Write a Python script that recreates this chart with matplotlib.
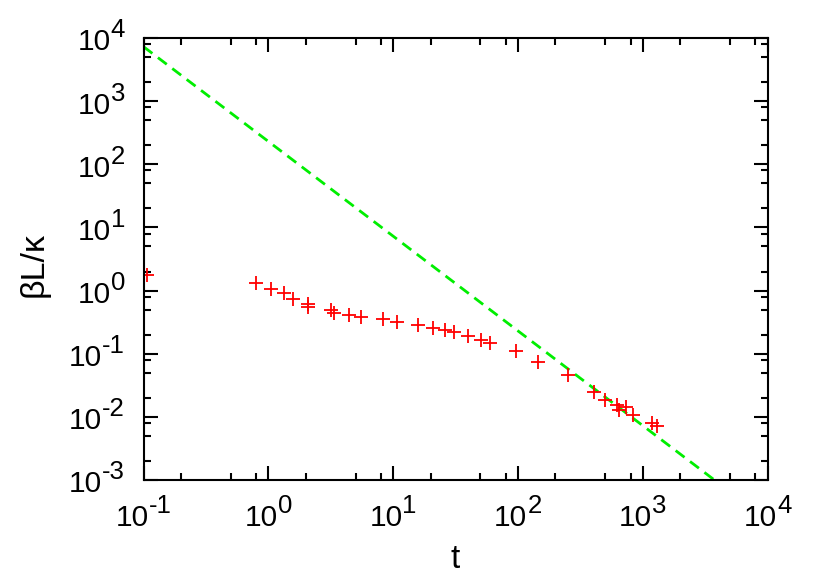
import numpy as np
import matplotlib
matplotlib.use('Agg')
import matplotlib.pyplot as plt
from matplotlib.ticker import LogLocator, NullFormatter
from matplotlib.font_manager import FontProperties

# datos
t_datos = [0.106, 0.79, 1.06, 1.33, 1.585, 2.07, 2.07, 3.16, 3.36, 4.44, 5.5,
           8.34, 10.8, 15.7, 20.7, 26.1, 30.9, 40.1, 50.4, 60.1, 96.6, 146,
           250, 407, 499, 620, 650, 734, 832, 1180, 1295]
bL_datos = [1.78, 1.33, 1.05, 0.925, 0.73, 0.605, 0.543, 0.49, 0.446, 0.41,
            0.377, 0.35, 0.32, 0.285, 0.252, 0.237, 0.218, 0.19, 0.165, 0.146,
            0.112, 0.0746, 0.046, 0.0245, 0.0185, 0.0154, 0.0128, 0.0142,
            0.0107, 0.0079, 0.00716]

# recta de ajuste  A * t^p
A_ajuste = 230.0
p_ajuste = -1.5

# exponentes de las decadas en cada eje
exp_x = [-1, 0, 1, 2, 3, 4]
exp_y = [-3, -2, -1, 0, 1, 2, 3, 4]

FUENTE = 'Liberation Sans'
TAM = 21.5       # tamaño de "10"
TAM_SUP = 18.5   # tamaño del exponente
plt.rcParams['font.family'] = [FUENTE, 'DejaVu Sans']

fig = plt.figure(figsize=(8.22, 5.76), dpi=100)
ax = fig.add_axes([0.1746, 0.1667, 0.7591, 0.7674])

t_linea = np.logspace(-1, 4, 200)
ax.plot(t_linea, A_ajuste * t_linea ** p_ajuste, color='#00ee00', lw=2,
        dashes=(4, 2.5))
ax.plot(t_datos, bL_datos, '+', color='#ff0000', markersize=10, mew=1.3)

ax.set_xscale('log')
ax.set_yscale('log')
ax.set_xlim(1e-1, 1e4)
ax.set_ylim(1e-3, 1e4)

# ticks mayores por decada, menores en 2, 5 y 8
for eje in (ax.xaxis, ax.yaxis):
    eje.set_major_locator(LogLocator(base=10, numticks=20))
    eje.set_minor_locator(LogLocator(base=10, subs=[2, 5, 8], numticks=20))
    eje.set_minor_formatter(NullFormatter())

ax.tick_params(which='both', direction='in', top=True, right=True, width=1.5,
               labelbottom=False, labelleft=False)
ax.tick_params(which='major', length=10)
ax.tick_params(which='minor', length=5)
for s in ax.spines.values():
    s.set_linewidth(1.5)

# etiquetas 10^n a mano, con el exponente grande (estilo gnuplot)
rend = fig.canvas.get_renderer()

def ancho(s, size):
    w, h, d = rend.get_text_width_height_descent(
        s, FontProperties(family=FUENTE, size=size), ismath=False)
    return w * 72.0 / fig.dpi  # en puntos

def px(v):
    return v * 0.72  # pixeles -> puntos

SUBE = px(13)  # altura extra del exponente

for n in exp_x:
    w10 = ancho('10', TAM)
    ws = ancho(str(n), TAM_SUP)
    x0 = -(w10 + ws) / 2.0
    ax.annotate('10', xy=(10.0 ** n, 0), xycoords=ax.get_xaxis_transform(),
                xytext=(x0, -px(46.5)), textcoords='offset points',
                ha='left', va='baseline', fontsize=TAM, annotation_clip=False)
    ax.annotate(str(n), xy=(10.0 ** n, 0), xycoords=ax.get_xaxis_transform(),
                xytext=(x0 + w10, -px(46.5) + SUBE), textcoords='offset points',
                ha='left', va='baseline', fontsize=TAM_SUP, annotation_clip=False)

for n in exp_y:
    ws = ancho(str(n), TAM_SUP)
    xd = -px(18.5)
    ax.annotate(str(n), xy=(0, 10.0 ** n), xycoords=ax.get_yaxis_transform(),
                xytext=(xd, -px(12.5) + SUBE), textcoords='offset points',
                ha='right', va='baseline', fontsize=TAM_SUP, annotation_clip=False)
    ax.annotate('10', xy=(0, 10.0 ** n), xycoords=ax.get_yaxis_transform(),
                xytext=(xd - ws, -px(12.5)), textcoords='offset points',
                ha='right', va='baseline', fontsize=TAM, annotation_clip=False)

ax.set_xlabel('t', fontsize=24)
ax.xaxis.label.set_va('baseline')
ax.xaxis.set_label_coords(0.5, -0.198)
ax.set_ylabel('βL/κ', fontsize=24.5)
ax.yaxis.label.set_va('center')
ax.yaxis.set_label_coords(-0.1755, 0.4876)

fig.savefig('out.png', dpi=100)
